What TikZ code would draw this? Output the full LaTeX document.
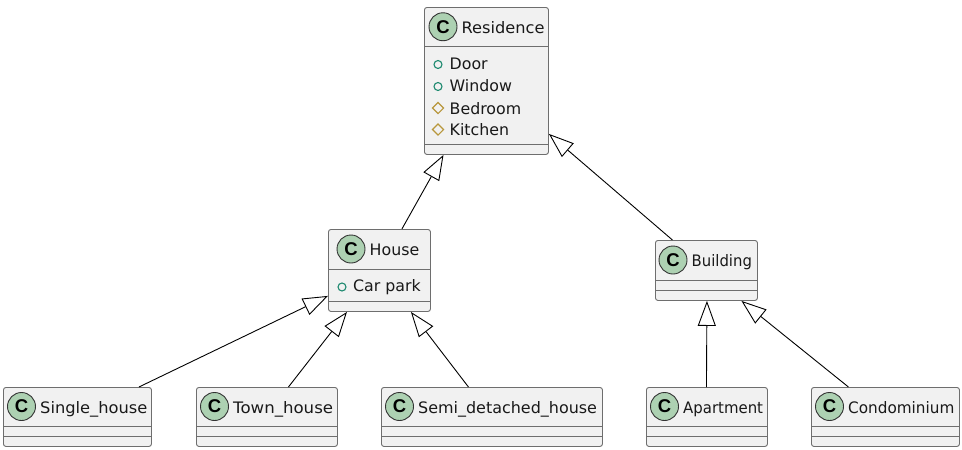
\documentclass[tikz,border=0pt]{standalone}
\usepackage{graphicx}
\usepackage{fontspec}
\setmainfont{DejaVu Sans}
\newfontfamily\badgefont{Liberation Sans}
\usetikzlibrary{arrows.meta,calc,shapes.geometric}
\definecolor{boxfill}{HTML}{F1F1F1}
\definecolor{boxline}{HTML}{6E6E6E}
\definecolor{circfill}{HTML}{ADD1B2}
\definecolor{pubcol}{HTML}{1F8A70}
\definecolor{protcol}{HTML}{B8973C}
\tikzset{
  x=1pt,y=-1pt,
  classbox/.style={draw=boxline,fill=boxfill,line width=0.9pt,rounded corners=2.5pt,inner sep=0pt,anchor=north west},
  sepline/.style={draw=boxline,line width=0.9pt},
  badge/.style={circle,draw=black!80,fill=circfill,line width=0.9pt,minimum size=28pt,inner sep=0pt,font=\badgefont\fontsize{18.5}{18.5}\selectfont\bfseries},
  title/.style={anchor=base west,inner sep=0pt,font=\fontsize{15.8}{16}\selectfont,text=black!90},
  member/.style={anchor=base west,inner sep=0pt,font=\fontsize{15.8}{16}\selectfont,text=black!90},
  pubicon/.style={circle,draw=pubcol,line width=1.1pt,minimum size=8pt,inner sep=0pt},
  proticon/.style={diamond,draw=protcol,line width=1.1pt,minimum size=11.5pt,inner sep=0pt},
  inherit/.style={draw=black,line width=0.9pt,-{Triangle[open,fill=white,length=25pt,width=18pt,line width=0.9pt]}},
}
\newcommand{\hsc}[2]{\scalebox{#1}[1]{#2}}
% name, left, top, right, bottom, divider 1, divider 2, text, badge offset
\newcommand{\umlclass}[9]{%
  \node[classbox,minimum width=#4pt-#2pt,minimum height=#5pt-#3pt] (#1) at (#2,#3) {};
  \draw[sepline] (#2,#6) -- (#4,#6);
  \draw[sepline] (#2,#7) -- (#4,#7);
  \node[badge] (#1C) at ({#2+#9},{(#3+#6)/2}) {C};
  \node[title] (#1T) at ({#2+#9+18.5},{(#3+#6)/2+6.5}) {#8};
}
\begin{document}
\begin{tikzpicture}
\useasboundingbox (0,0) rectangle (962,450);
\fill[white] (0,0) rectangle (962,450);
\umlclass{res}{424}{7}{548}{154}{46.5}{144}{\hsc{1.025}{Residence}}{19}
\umlclass{house}{328}{229}{430}{311}{269}{301}{House}{23}
\umlclass{building}{655}{240}{757}{300}{280}{290}{\hsc{0.94}{Building}}{18}
\umlclass{single}{3}{387}{151}{446}{426}{436}{\hsc{1.03}{Single\_house}}{18.5}
\umlclass{town}{196}{387}{337}{446}{426}{436}{\hsc{1.05}{Town\_house}}{18.5}
\umlclass{semi}{381}{387}{602}{446}{426}{436}{\hsc{1.01}{Semi\_detached\_house}}{18.5}
\umlclass{apart}{646}{387}{767}{446}{426}{436}{\hsc{0.945}{Apartment}}{18.5}
\umlclass{condo}{811}{387}{959}{446}{426}{436}{\hsc{0.965}{Condominium}}{18.5}
\node[pubicon] (i1) at (438,64.5) {};
\node[member] (m1) at (449.5,69.5) {Door};
\node[pubicon] (i2) at (438,86.5) {};
\node[member] (m2) at (449.5,91.7) {Window};
\node[proticon] (i3) at (438,108) {};
\node[member] (m3) at (449.5,114) {Bedroom};
\node[proticon] (i4) at (438,129.5) {};
\node[member] (m4) at (449.5,135.7) {Kitchen};
\node[pubicon] (i5) at (342,287) {};
\node[member] (m5) at (353,291.7) {Car park};
\draw[inherit] ([xshift=-29pt]house.north east) -- ([xshift=19.5pt]res.south west);
\draw[inherit] ([xshift=-34pt]building.north) -- ([yshift=21pt]res.south east);
\draw[inherit] ([xshift=61.5pt]single.north) -- ([yshift=16pt]house.south west);
\draw[inherit] ([xshift=21.5pt]town.north) -- ([xshift=19pt]house.south west);
\draw[inherit] ([xshift=-23.5pt]semi.north) -- ([xshift=-20pt]house.south east);
\draw[inherit] ([xshift=-0.5pt]apart.north) -- (building.south -| apart.north);
\draw[inherit] ([xshift=-37pt]condo.north) -- ([xshift=35pt]building.south);
\end{tikzpicture}
\end{document}
